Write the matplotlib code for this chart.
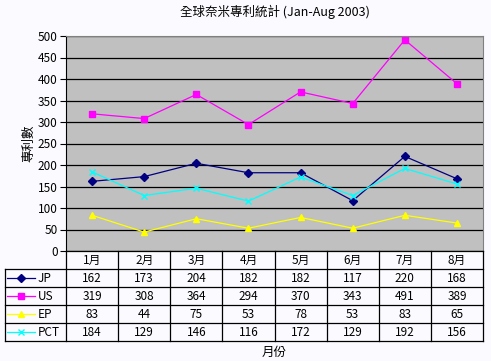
import matplotlib
matplotlib.use("Agg")
import matplotlib.pyplot as plt

plt.rcParams['font.family'] = ['Noto Sans CJK TC', 'DejaVu Sans']

months = ['1月', '2月', '3月', '4月', '5月', '6月', '7月', '8月']
jp = [162, 173, 204, 182, 182, 117, 220, 168]
us = [319, 308, 364, 294, 370, 343, 491, 389]
ep = [83, 44, 75, 53, 78, 53, 83, 65]
pct = [184, 129, 146, 116, 172, 129, 192, 156]

series = [
    ('JP', jp, '#000080', 'D'),
    ('US', us, '#FF00FF', 's'),
    ('EP', ep, '#FFFF00', '^'),
    ('PCT', pct, '#00FFFF', 'x'),
]

W, H = 491, 361
fig = plt.figure(figsize=(W / 100, H / 100), dpi=100)
fig.patch.set_facecolor('#FBFAFE')

# main plot area (pixels: x 66..483, y 36..251)
ax = fig.add_axes([66 / W, 1 - 251 / H, 417 / W, 215 / H])
ax.set_facecolor('#C0C0C0')
ax.set_xlim(0, 8)
ax.set_ylim(0, 500)
ax.set_yticks(range(0, 501, 50))
ax.set_xticks([])
ax.grid(axis='y', color='black', linewidth=0.9)
ax.set_axisbelow(True)
ax.tick_params(axis='y', length=4, width=0.8, labelsize=8.5, pad=2)
for s in ['top', 'right']:
    ax.spines[s].set_color('#808080')
ax.spines['left'].set_color('black')
ax.spines['bottom'].set_visible(False)

xs = [i + 0.5 for i in range(len(months))]
for name, vals, col, mk in series:
    ms = 5 if mk == 'x' else 4.5
    ax.plot(xs, vals, color=col, linewidth=0.9, marker=mk, markersize=ms,
            markeredgecolor=col, markerfacecolor=col)

ax.set_ylabel('專利數', fontsize=9, labelpad=2)
fig.text(0.5 * (66 + 483) / W, 1 - 12 / H, '全球奈米專利統計 (Jan-Aug 2003)',
         ha='center', va='center', fontsize=9)

# data table below (pixels: x 5..483, y 251..341)
unit = 417 / 8
left = -61 / unit
tax = fig.add_axes([5 / W, 1 - 341 / H, 478 / W, 90 / H])
tax.set_xlim(left, 8)
tax.set_ylim(0, 5)
tax.axis('off')
lw = 0.9
tax.plot([left, 8], [0, 0], color='black', lw=lw, clip_on=False)
for yy in [1, 2, 3, 4]:
    tax.plot([left, 8], [yy, yy], color='black', lw=lw, clip_on=False)
tax.plot([0, 8], [5, 5], color='black', lw=lw, clip_on=False)
tax.plot([left, left], [0, 4], color='black', lw=lw, clip_on=False)
for xx in range(9):
    tax.plot([xx, xx], [0, 5], color='black', lw=lw, clip_on=False)

for i, m in enumerate(months):
    tax.text(i + 0.5, 4.5, m, ha='center', va='center', fontsize=8.5)

for r, (name, vals, col, mk) in enumerate(series):
    yc = 3.5 - r
    x0, x1 = (7 - 66) / unit, (35 - 66) / unit
    tax.plot([x0, x1], [yc, yc], color=col, lw=0.9, clip_on=False)
    ms = 5 if mk == 'x' else 4.5
    tax.plot([(x0 + x1) / 2], [yc], marker=mk, color=col, markersize=ms,
             markeredgecolor=col, clip_on=False)
    tax.text((38 - 66) / unit, yc, name, ha='left', va='center', fontsize=8.5)
    for i, v in enumerate(vals):
        tax.text(i + 0.5, yc, str(v), ha='center', va='center', fontsize=8.5)

fig.text(0.5 * (66 + 483) / W, 1 - 352 / H, '月份', ha='center', va='center',
         fontsize=9)

fig.savefig('out.png', dpi=100, facecolor=fig.get_facecolor())
